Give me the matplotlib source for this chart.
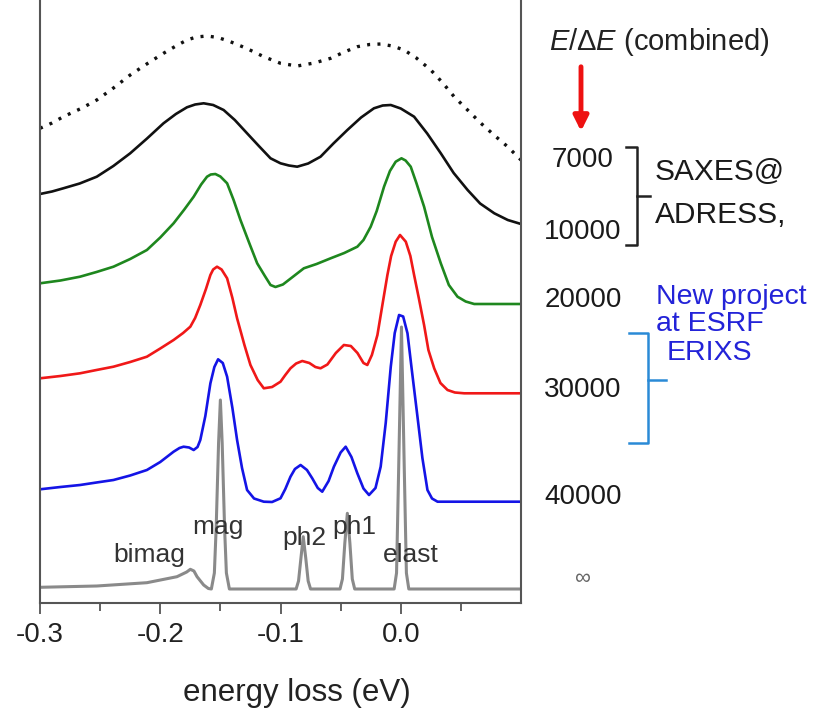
import matplotlib
matplotlib.use('Agg')
import matplotlib.pyplot as plt
from matplotlib.lines import Line2D

plt.rcParams['font.family'] = ['Liberation Sans', 'DejaVu Sans']
plt.rcParams['mathtext.fontset'] = 'custom'
plt.rcParams['mathtext.rm'] = 'Liberation Sans'
plt.rcParams['mathtext.it'] = 'Liberation Sans:italic'
plt.rcParams['axes.unicode_minus'] = False

# energy loss (eV) and offset intensity (arb. units)
x_dot = [-0.3, -0.29, -0.2806, -0.265, -0.2528, -0.24, -0.225, -0.21, -0.1973, -0.187, -0.1778, -0.17,
         -0.1611, -0.152, -0.1417, -0.128, -0.1139, -0.1, -0.0861, -0.072, -0.0583, -0.047, -0.0361,
         -0.026, -0.0167, -0.007, 0.0028, 0.013, 0.025, 0.035, 0.0444, 0.056, 0.0667, 0.078, 0.0889, 0.1]
y_dot = [474.7, 480, 486.3, 495, 503, 514, 528, 540, 549.7, 557, 563, 566,
         567, 565.5, 561.3, 554.5, 546.3, 539.7, 537, 540, 544.7, 551, 556.3,
         558.5, 559, 557, 553, 545, 533, 520, 506.3, 492.5, 479.7, 467.5, 456.3, 443]

x_7k = [-0.3, -0.29, -0.2806, -0.267, -0.2528, -0.239, -0.225, -0.211, -0.1973, -0.187, -0.1778, -0.171,
        -0.1639, -0.156, -0.1473, -0.138, -0.1278, -0.118, -0.1083, -0.1, -0.093, -0.0861, -0.077,
        -0.0667, -0.056, -0.0444, -0.033, -0.0223, -0.015, -0.0083, 0.0, 0.0111, 0.022, 0.0333, 0.044,
        0.0556, 0.066, 0.0778, 0.089, 0.1]
y_7k = [409, 411.5, 414.7, 419.5, 426.3, 437, 449.7, 464.5, 479.7, 489, 495.7, 498.5,
        499.7, 498, 493, 483, 469.7, 457, 444.7, 439.7, 437.5, 436.3, 439.5,
        446.3, 459.5, 473, 485.5, 494.7, 497.5, 498, 494.5, 486.3, 469.5, 449.7, 430,
        413, 399.5, 389.7, 383, 379]

x_20k = [-0.3, -0.283, -0.2667, -0.253, -0.2389, -0.225, -0.2111, -0.2, -0.1889, -0.18, -0.1722,
         -0.166, -0.1611, -0.158, -0.1542, -0.15, -0.1444, -0.139, -0.1333, -0.126, -0.1194, -0.113,
         -0.1083, -0.1042, -0.098, -0.091, -0.0806, -0.07, -0.0583, -0.047, -0.0361, -0.031, -0.025,
         -0.02, -0.0139, -0.009, -0.0042, 0.0006, 0.004, 0.0083, 0.013, 0.0194, 0.026, 0.0333, 0.04,
         0.0472, 0.054, 0.0611, 0.1]
y_20k = [319.7, 322.5, 326.3, 331, 336.3, 344, 353, 365.5, 379.7, 393.5, 406.3,
         418.5, 426.3, 428.5, 429, 426.5, 419.7, 403, 383, 360, 339.7, 327,
         318, 316, 318.5, 325, 334.7, 339, 344.7, 350, 356.3, 363, 376.3,
         392, 416.3, 432, 441.3, 444.7, 442.5, 436.3, 420, 396.3, 366, 339.7, 318,
         306.3, 301.5, 299, 299]

x_30k = [-0.3, -0.283, -0.2667, -0.253, -0.2389, -0.225, -0.2111, -0.2, -0.1889, -0.181, -0.175,
         -0.171, -0.1667, -0.162, -0.1583, -0.156, -0.1528, -0.149, -0.1444, -0.14, -0.1361, -0.13,
         -0.125, -0.119, -0.1139, -0.107, -0.1, -0.096, -0.0917, -0.087, -0.0819, -0.076, -0.071,
         -0.0667, -0.061, -0.054, -0.0473, -0.0415, -0.036, -0.031, -0.0278, -0.024, -0.0194, -0.015,
         -0.0111, -0.008, -0.0042, -0.0006, 0.0042, 0.008, 0.0111, 0.015, 0.0194, 0.023, 0.0278, 0.033,
         0.0389, 0.045, 0.0528, 0.1]
y_30k = [224.7, 227, 229.7, 233, 236.3, 241, 246.3, 254.5, 263, 270, 276.3,
         285, 298, 314, 328, 333.5, 336.3, 333.5, 324.7, 305, 284.7, 258,
         238, 223, 214.7, 216, 221.3, 228, 234.7, 239.5, 242, 240, 236,
         234.7, 238.5, 250, 258, 257, 250, 240, 238, 248, 268, 300,
         328, 347, 361.3, 368, 361.3, 347, 328, 305, 278, 253, 234.7, 220,
         213, 210.5, 209.7, 209.7]

x_40k = [-0.3, -0.283, -0.2667, -0.253, -0.2389, -0.225, -0.2111, -0.2, -0.193, -0.1889, -0.184,
         -0.1806, -0.176, -0.1722, -0.169, -0.1667, -0.1625, -0.1583, -0.155, -0.1519, -0.148, -0.1444,
         -0.14, -0.1361, -0.132, -0.1278, -0.122, -0.1139, -0.107, -0.1, -0.096, -0.0917, -0.088,
         -0.0833, -0.078, -0.0736, -0.069, -0.0653, -0.06, -0.0556, -0.05, -0.0458, -0.041, -0.0361,
         -0.031, -0.0264, -0.021, -0.0167, -0.0125, -0.0083, -0.005, -0.0014, 0.002, 0.0056, 0.009,
         0.0139, 0.018, 0.0222, 0.026, 0.0306, 0.036, 0.1]
y_40k = [113.7, 116, 118, 120.5, 123, 127.5, 133, 141, 147.5, 151.3, 155,
         156.3, 155.5, 153, 156, 163, 187, 219.7, 236, 243.7, 240, 226.3,
         195, 163, 135, 113, 104.5, 101.3, 101, 104.7, 114, 126.3, 134,
         138, 133, 124.7, 115, 111.3, 122, 136.3, 150.5, 156.3, 146, 129.7,
         114.5, 108, 115, 136.3, 180, 236.3, 270, 288, 286.5, 269.7, 235,
         186.3, 145, 113, 104.5, 101.3, 101.3, 101.3]

x_inf = [-0.3, -0.2528, -0.2111, -0.1861, -0.178, -0.175, -0.172, -0.1694, -0.1639, -0.16,
         -0.1575, -0.155, -0.1535, -0.1515, -0.15, -0.1485, -0.1465, -0.145, -0.1425,
         -0.087, -0.085, -0.083, -0.0811, -0.079, -0.077, -0.075,
         -0.0505, -0.0485, -0.0465, -0.0444, -0.0423, -0.0403, -0.0383,
         -0.0055, -0.0035, -0.0018, 0.0006, 0.003, 0.0047, 0.0067, 0.1]
y_inf = [15.7, 17, 20.3, 26.3, 31, 33.7, 32, 26.3, 18, 14.5,
         14, 30, 75, 160, 203, 160, 75, 30, 14,
         14, 22, 45, 66.3, 45, 22, 14,
         14, 24, 60, 89.7, 60, 24, 14,
         14, 30, 130, 276, 130, 30, 14, 14]

res_labels = ['7000', '10000', '20000', '30000', '40000', '\u221e']
peak_names = ['bimag', 'mag', 'ph2', 'ph1', 'elast']
peak_pos = [-0.209, -0.152, -0.080, -0.039, 0.008]
peak_lab_y = [48, 76, 65, 76, 48]

fig = plt.figure(figsize=(8.18, 7.17), dpi=100)
ax = fig.add_axes([40 / 818, 1 - 603 / 717, 481 / 818, 603 / 717])

ax.plot(x_dot, y_dot, color='#111111', lw=2.4, linestyle=(0, (0.9, 2.2)))
ax.plot(x_7k, y_7k, color='#111111', lw=1.9)
ax.plot(x_20k, y_20k, color='#1e871e', lw=1.9)
ax.plot(x_30k, y_30k, color='#f01818', lw=1.9)
ax.plot(x_40k, y_40k, color='#1414e6', lw=1.9)
ax.plot(x_inf, y_inf, color='#8a8a8a', lw=2.2)

for name, xp, yp in zip(peak_names, peak_pos, peak_lab_y):
    ax.text(xp, yp, name, fontsize=19, color='#333333', ha='center', va='center')

ax.set_xlim(-0.3, 0.1)
ax.set_ylim(0, 603)
ax.set_xticks([-0.3, -0.2, -0.1, 0.0])
ax.set_xticklabels(['-0.3', '-0.2', '-0.1', '0.0'])
ax.set_xticks([-0.25, -0.15, -0.05, 0.05], minor=True)
ax.set_yticks([])
ax.tick_params(axis='x', which='major', direction='out', length=8, width=1.3,
               color='#555555', labelsize=20, labelcolor='#222222', pad=6)
ax.tick_params(axis='x', which='minor', direction='out', length=6, width=1.3, color='#555555')
ax.spines['top'].set_visible(False)
for s in ['left', 'right', 'bottom']:
    ax.spines[s].set_color('#555555')
    ax.spines[s].set_linewidth(1.5)
ax.set_xlabel('energy loss (eV)', fontsize=22.5, color='#222222', va='center')
ax.xaxis.set_label_coords((297 - 40) / 481, -90 / 603)

# right-hand annotations (figure pixels -> fraction)
def fx(px):
    return px / 818

def fy(py):
    return 1 - py / 717

fig.text(fx(549), fy(42), r'$E/\Delta E$ (combined)', fontsize=21, color='#222222', va='center')
ax.annotate('', xy=(fx(581), fy(134)), xytext=(fx(581), fy(64)),
            xycoords='figure fraction', textcoords='figure fraction',
            arrowprops=dict(arrowstyle='-|>', color='#ee1111', lw=3.5, mutation_scale=22))

lab_y = [160, 232, 300, 390, 497, 578]
for lab, py in zip(res_labels, lab_y):
    if lab == '\u221e':
        fig.text(fx(582), fy(py), lab, fontsize=16, color='#666666', ha='center', va='center')
    else:
        fig.text(fx(583), fy(py), lab, fontsize=20, color='#1a1a1a', ha='center', va='center')

# bracket for SAXES@ADRESS
bk = '#222222'
fig.add_artist(Line2D([fx(626), fx(637), fx(637), fx(626)], [fy(147), fy(147), fy(245), fy(245)],
                      color=bk, lw=1.8))
fig.add_artist(Line2D([fx(637), fx(650)], [fy(196), fy(196)], color=bk, lw=1.8))
fig.text(fx(655), fy(172), 'SAXES@', fontsize=21.5, color='#1a1a1a', va='center')
fig.text(fx(655), fy(215), 'ADRESS,', fontsize=21.5, color='#1a1a1a', va='center')

# bracket for ESRF project
bb = '#2a8ad6'
fig.add_artist(Line2D([fx(629), fx(648), fx(648), fx(629)], [fy(333), fy(333), fy(443), fy(443)],
                      color=bb, lw=1.8))
fig.add_artist(Line2D([fx(648), fx(666)], [fy(380), fy(380)], color=bb, lw=1.8))
fig.text(fx(656), fy(297), 'New project', fontsize=20.5, color='#2323d8', va='center')
fig.text(fx(656), fy(324), 'at ESRF', fontsize=20.5, color='#2323d8', va='center')
fig.text(fx(667), fy(353), 'ERIXS', fontsize=20.5, color='#2323d8', va='center')

fig.savefig('out.png', dpi=100)
